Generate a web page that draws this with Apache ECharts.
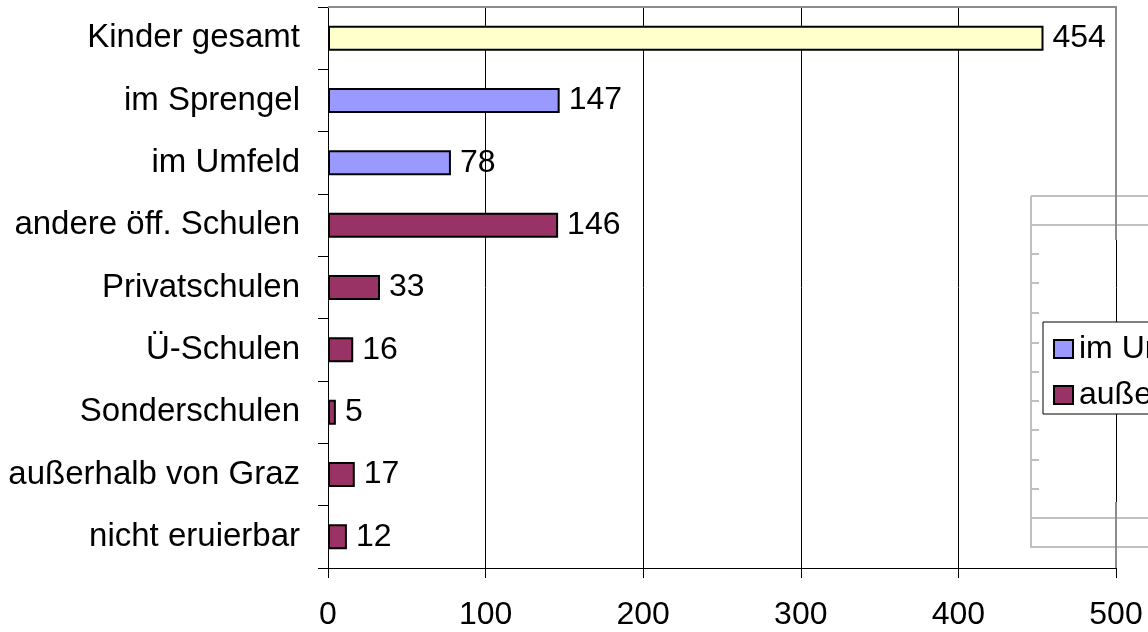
<!DOCTYPE html>
<html>
<head>
<meta charset="utf-8">
<script src="https://cdn.jsdelivr.net/npm/echarts@6/dist/echarts.min.js"></script>
<style>
html,body{margin:0;padding:0;background:#fff;}
#chart{width:1148px;height:632px;}
</style>
</head>
<body>
<div id="chart"></div>
<script>
const categories = ['Kinder gesamt','im Sprengel','im Umfeld','andere öff. Schulen','Privatschulen','Ü-Schulen','Sonderschulen','außerhalb von Graz','nicht eruierbar'];
const totalValues   = [454, '-', '-', '-', '-', '-', '-', '-', '-'];
const umfeldValues  = ['-', 147, 78, '-', '-', '-', '-', '-', '-'];
const ausserValues  = ['-', '-', '-', 146, 33, 16, 5, 17, 12];
const seriesNames = ['Kinder gesamt', 'im Umfeld', 'außerhalb von Graz'];
const xTicks = [0, 100, 200, 300, 400, 500];

const FONT = '"Liberation Sans", Arial, sans-serif';
const chart = echarts.init(document.getElementById('chart'), null, {renderer:'canvas'});

function barSeries(name, data, color) {
  return {
    type: 'bar',
    name: name,
    data: data,
    barWidth: 25,
    barGap: '-100%',
    itemStyle: {color: color, borderColor: '#000', borderWidth: 2},
    label: {show: true, position: 'right', distance: 9, color: '#000', fontSize: 32, fontFamily: FONT},
    emphasis: {disabled: true},
    animation: false
  };
}

const light = '#c0c0c0';
const dark = '#8c8c8c';
const graphics = [];
// light gray frame artifact
graphics.push({type:'line', shape:{x1:1031,y1:196,x2:1031,y2:548}, style:{stroke:light, lineWidth:2}, z:1});
[196,225,518,547].forEach(y => graphics.push({type:'line', shape:{x1:1031,y1:y,x2:1148,y2:y}, style:{stroke:light, lineWidth:2}, z:1}));
[254,283,313,343,372,401,430,460,489].forEach(y => graphics.push({type:'line', shape:{x1:1031,y1:y,x2:1039,y2:y}, style:{stroke:light, lineWidth:2}, z:1}));
// plot area top/right border
graphics.push({type:'line', shape:{x1:328,y1:7,x2:1117,y2:7}, style:{stroke:dark, lineWidth:2}, z:2});
graphics.push({type:'line', shape:{x1:1116,y1:6,x2:1116,y2:240}, style:{stroke:dark, lineWidth:2}, z:2});
graphics.push({type:'line', shape:{x1:1116,y1:502,x2:1116,y2:568}, style:{stroke:dark, lineWidth:2}, z:2});

chart.setOption({
  animation: false,
  backgroundColor: '#fff',
  textStyle: {fontFamily: FONT},
  grid: {left: 328, right: 32, top: 7, bottom: 64, containLabel: false},
  legend: {
    show: true,
    data: [seriesNames[1], seriesNames[2]],
    orient: 'vertical',
    left: 1043, top: 322,
    padding: [11, 10, 3, 10],
    itemGap: 14,
    itemWidth: 19, itemHeight: 18,
    icon: 'rect',
    backgroundColor: '#fff',
    borderColor: '#000', borderWidth: 1,
    textStyle: {fontSize: 32, color: '#000', fontFamily: FONT, padding: [0,0,0,1]},
    selectedMode: false
  },
  xAxis: {
    type: 'value', min: 0, max: 500, interval: 100,
    axisLine: {show: true, lineStyle: {color: '#000', width: 1}},
    axisTick: {show: true, length: 10, lineStyle: {color: '#000'}},
    axisLabel: {fontSize: 32, color: '#000', margin: 31, fontFamily: FONT,
      formatter: v => xTicks.indexOf(v) >= 0 ? String(v) : ''},
    splitLine: {show: true, lineStyle: {color: '#000', width: 1}}
  },
  yAxis: {
    type: 'category', data: categories, inverse: true,
    axisLine: {show: true, lineStyle: {color: '#000', width: 1}},
    axisTick: {show: true, length: 10, lineStyle: {color: '#000'}},
    axisLabel: {fontSize: 33, color: '#000', margin: 28, fontFamily: FONT}
  },
  graphic: graphics,
  series: [
    barSeries(seriesNames[0], totalValues, '#FFFFCC'),
    barSeries(seriesNames[1], umfeldValues, '#9999FF'),
    barSeries(seriesNames[2], ausserValues, '#993366')
  ]
});
</script>
</body>
</html>
